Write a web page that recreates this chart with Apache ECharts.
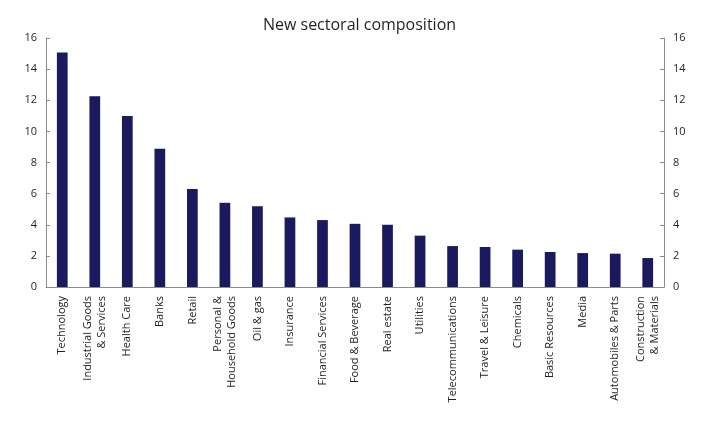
<!DOCTYPE html>
<html>
<head>
<meta charset="utf-8">
<script src="https://cdn.jsdelivr.net/npm/echarts@6/dist/echarts.min.js"></script>
<style>
  html, body { margin: 0; padding: 0; background: #fff; }
  #container { width: 719px; height: 425px; }
</style>
</head>
<body>
<div id="container"></div>
<script>
// data
var sectors = [
    'Technology', 'Industrial Goods\n& Services', 'Health Care', 'Banks', 'Retail',
    'Personal &\nHousehold Goods', 'Oil & gas', 'Insurance', 'Financial Services',
    'Food & Beverage', 'Real estate', 'Utilities', 'Telecommunications',
    'Travel & Leisure', 'Chemicals', 'Basic Resources', 'Media',
    'Automobiles & Parts', 'Construction\n& Materials'
];
var weights = [15.07, 12.26, 10.98, 8.88, 6.29, 5.41, 5.19, 4.47, 4.3, 4.06,
    4.0, 3.3, 2.63, 2.57, 2.4, 2.25, 2.18, 2.14, 1.86];
var yTicks = [0, 16, 2]; // min, max, interval

var dom = document.getElementById('container');
var myChart = echarts.init(dom);

var axisGrey = '#8c8c8c';
var fontName = 'Open Sans';

function valueAxis(pos) {
    return {
        type: 'value',
        position: pos,
        min: yTicks[0],
        max: yTicks[1],
        interval: yTicks[2],
        axisLine: { show: true, lineStyle: { color: axisGrey, width: 1 } },
        // ticks point into the plot on both sides
        axisTick: { show: true, inside: true, length: 4, lineStyle: { color: axisGrey } },
        splitLine: { show: false },
        axisLabel: {
            color: '#231f20',
            fontFamily: fontName,
            fontSize: 11,
            margin: 9
        }
    };
}

var option = {
    animation: false,
    title: {
        text: 'New sectoral composition',
        left: 'center',
        top: 12,
        textStyle: {
            fontFamily: fontName,
            fontWeight: 'normal',
            fontSize: 16,
            color: '#231f20'
        }
    },
    grid: {
        left: 46,
        right: 55,
        top: 38,
        bottom: 138,
        containLabel: false
    },
    xAxis: {
        type: 'category',
        data: sectors,
        axisLine: { show: true, lineStyle: { color: axisGrey, width: 1 } },
        axisTick: { show: false },
        axisLabel: {
            rotate: 90,
            interval: 0,
            color: '#231f20',
            fontFamily: fontName,
            fontSize: 11,
            lineHeight: 14,
            margin: 9
        }
    },
    yAxis: [valueAxis('left'), valueAxis('right')],
    series: [{
        type: 'bar',
        data: weights,
        barWidth: '33%',
        itemStyle: { color: '#1b1a5f' }
    }]
};

myChart.setOption(option, true);
</script>
</body>
</html>
